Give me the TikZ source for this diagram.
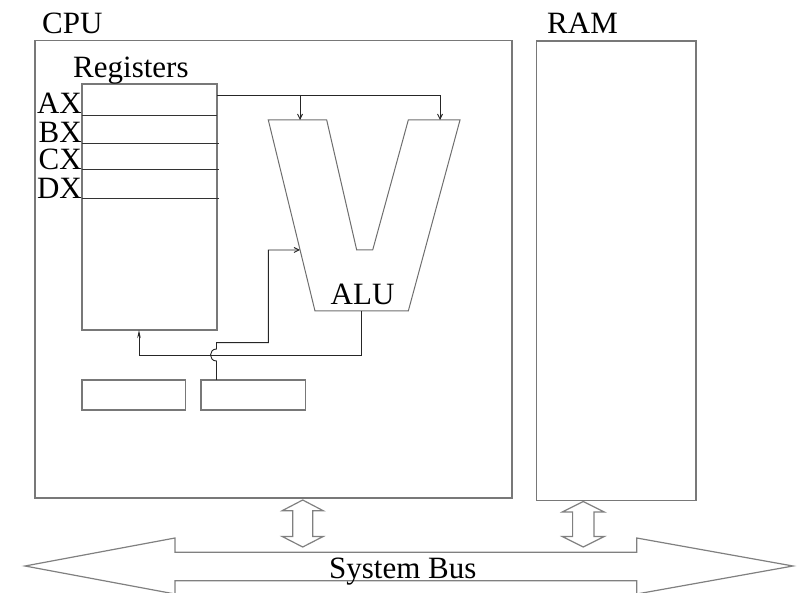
\documentclass[tikz,border=0pt]{standalone}
\usepackage{fontspec}
\setmainfont{Liberation Serif}
\usetikzlibrary{arrows.meta}

\definecolor{boxgray}{RGB}{120,120,120}
\definecolor{alugray}{RGB}{110,110,110}
\definecolor{linkgray}{RGB}{128,128,128}

\tikzset{
  unit/.style={x=1pt,y=-1pt},
  frame/.style={draw=boxgray,line width=1.1pt,inner sep=0pt,outer sep=0pt,anchor=north west},
  regline/.style={draw=black!80,line width=0.9pt},
  label/.style={inner sep=0pt,font=\fontsize{31}{36}\selectfont},
  wire/.style={draw=black!85,line width=0.9pt},
  barb/.style={-{Straight Barb[length=5pt,width=5pt]}},
  sharp/.style={-{Stealth[length=8pt,width=3.5pt]}},
  hollow/.style={draw=linkgray,line width=1.2pt,fill=white,line join=miter}
}

\begin{document}
\begin{tikzpicture}[unit]
  \path[use as bounding box] (0,0) rectangle (798,593);
  \clip (0,0) rectangle (798,593);

  % outer units
  \node[frame,minimum width=477pt,minimum height=457.5pt] (cpu) at (35,40.5) {};
  \node[frame,minimum width=159.5pt,minimum height=459.5pt] (ram) at (536.5,41) {};
  \node[label,anchor=base west] (cpulbl) at (42,34) {CPU};
  \node[label,anchor=base west] (ramlbl) at (547,33.5) {RAM};

  % register file
  \node[frame,minimum width=135pt,minimum height=246pt] (regs) at (82,84) {};
  \node[label,anchor=base west] (regslbl) at (73,78) {Registers};
  \draw[regline] (82,115.7) -- (217,115.7);
  \draw[regline] (82,143.3) -- (218.5,143.3);
  \draw[regline] (82,169.3) -- (218.5,169.3);
  \draw[regline] (82,198.3) -- (218.5,198.3);
  \node[label,anchor=base east] (ax) at (82,114) {AX};
  \node[label,anchor=base east] (bx) at (82,142.5) {BX};
  \node[label,anchor=base east] (cx) at (82,170) {CX};
  \node[label,anchor=base east] (dx) at (82,199) {DX};

  % two small units below the registers
  \node[frame,minimum width=103.7pt,minimum height=30pt] (unitA) at (82,380) {};
  \node[frame,minimum width=104.7pt,minimum height=30pt] (unitB) at (201,380) {};

  % ALU outline
  \draw[draw=alugray,line width=1pt,line join=miter]
    (268.3,120) -- (326.7,120) -- (356.7,250) -- (372.7,250) -- (408.3,120)
    -- (460,120) -- (408.3,311) -- (315,311) -- cycle;
  \node[label,anchor=base west] (alulbl) at (330.5,304.3) {ALU};

  % connection points
  \coordinate (axout) at (217,95);
  \coordinate (aluInA) at (300,120);
  \coordinate (aluInB) at (440,120);
  \coordinate (aluInC) at (300,250);
  \coordinate (aluOut) at (361,311);
  \coordinate (regIn) at (139,330);
  \coordinate (unitOut) at (216.5,380);

  % register AX feeds both ALU inputs
  \draw[wire,barb] (axout) -| (aluInB);
  \draw[wire,barb] (aluInA |- axout) -- (aluInA);

  % ALU result back to the register file
  \draw[wire,sharp] (aluOut) -- (361,355) -- (139,355) -- (regIn);

  % second unit into the ALU side input, hopping over the result line
  \draw[wire,barb] (unitOut) -- (216.5,361)
    .. controls (208.5,361) and (208.5,349) .. (216.5,349)
    -- (216.5,342.7) -- (268.3,342.7) -- (268.3,250) -- (aluInC);

  % bus links
  \draw[hollow] (302.7,500) -- (323.2,510.7) -- (312.7,510.7) -- (312.7,536.5)
    -- (323.2,536.5) -- (302.7,547) -- (282.2,536.5) -- (292.7,536.5)
    -- (292.7,510.7) -- (282.2,510.7) -- cycle;
  \draw[hollow] (583.3,501.5) -- (604.3,512) -- (594,512) -- (594,536.5)
    -- (604.3,536.5) -- (583.3,547) -- (562.3,536.5) -- (572.6,536.5)
    -- (572.6,512) -- (562.3,512) -- cycle;

  % system bus
  \draw[hollow] (25,566) -- (175,538) -- (175,552.3) -- (636.7,552.3)
    -- (636.7,538) -- (793,566) -- (636.7,594) -- (636.7,580.7)
    -- (175,580.7) -- (175,594) -- cycle;
  \node[label,anchor=base west] (buslbl) at (329,578) {System Bus};
\end{tikzpicture}
\end{document}
